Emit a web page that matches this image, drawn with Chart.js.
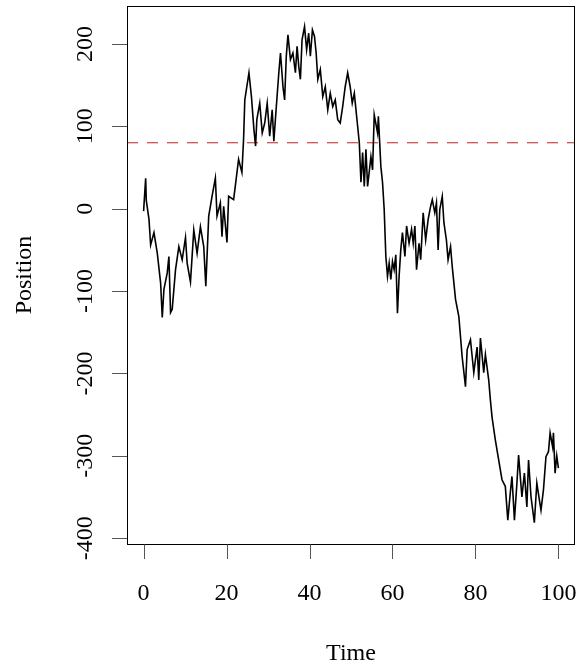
<!DOCTYPE html>
<html lang="en">
<head>
  <meta charset="UTF-8">
  <title>Random walk - Position vs Time</title>
  <script src="https://cdn.jsdelivr.net/npm/chart.js"></script>
  <style>
    html, body { margin: 0; padding: 0; background: #fff; }
    #wrap { width: 577px; height: 666px; position: relative; }
  </style>
</head>
<body>
  <div id="wrap"><canvas id="walkChart"></canvas></div>

  <script>
    // values
    const times = [0, 0.5, 0.65, 1.3, 1.7, 2.5, 3.3, 4.1, 4.5, 4.9, 5.7, 6.1, 6.5, 6.9, 7.7, 8.5, 9.3, 10.1, 10.5, 11.3,
      12.1, 12.9, 13.7, 14.5, 15.0, 15.7, 16.5, 17.3, 17.7, 18.5, 18.9, 19.3, 20.1, 20.5, 21.7, 22.1, 22.9, 23.7, 24.1,
      24.4, 25.4, 26.0, 26.6, 27.0, 27.3, 28.0, 28.6, 29.2, 29.8, 30.4, 31.0, 31.4, 32.0, 32.6, 33.0, 33.6, 34.0, 34.4, 34.8,
      35.4, 36.0, 36.6, 37.0, 37.4, 37.8, 38.2, 38.8, 39.3, 39.8, 40.2, 40.7, 41.2, 41.6, 42.0, 42.6, 43.2, 43.8, 44.4, 45.0,
      45.6, 46.2, 46.8, 47.4, 48.0, 48.6, 49.2, 49.8, 50.3, 50.8,
      51.6, 52.0, 52.4, 52.8, 53.2, 53.6, 54.0, 54.8, 55.2, 55.6, 56.4, 56.6, 57.2, 57.6,
      58.0, 58.4, 58.8, 59.2, 59.6, 60.0, 60.4, 60.8, 61.2, 61.6, 62.0, 62.4, 63.0, 63.4, 64.0, 64.6, 65.0, 65.4, 65.8, 66.4,
      66.8, 67.4, 68.0, 68.6, 69.2, 69.6, 70.2, 70.6, 71.0, 71.4, 72.0, 72.4, 73.0, 73.4, 74.0, 74.4, 75.2, 76.0,
      76.8, 77.6, 78.0, 78.8, 79.6, 80.4, 80.8, 81.2, 82.0, 82.4, 83.2, 83.6, 84.0, 84.8, 85.6, 86.4, 87.2, 87.8, 88.4, 88.8,
      89.4, 90.0, 90.4, 91.2, 91.8, 92.4, 92.8, 93.4, 94.2, 94.8, 95.4, 95.8, 96.4, 97.0, 97.6, 98.0, 98.6, 98.8, 99.2, 99.6,
      100];
    const positions = [-3, 37, 10, -13, -44, -29, -54, -90, -132, -98, -78, -58, -126, -122, -74, -46, -62, -35, -66, -89,
      -26, -54, -22, -46, -94, -9, 15, 37, -9, 7, -34, 3, -41, 15, 11, 27, 60, 44, 84,
      132, 165, 136, 96, 76, 108, 128, 92, 104, 128, 88, 120, 82, 124, 165, 189, 148, 132, 185, 211,
      181, 189, 165, 197, 173, 157, 205, 221, 193, 213, 185, 217, 209, 189, 157, 169, 136, 148, 120, 140,
      124, 132, 108, 104, 124, 148, 165, 148, 128, 140,
      100, 80, 32, 68, 27, 72, 27, 63, 47, 114, 92, 112, 51, 32,
      -1, -58, -82, -66, -86, -64, -74, -56, -127, -82, -50, -29, -58, -21, -42, -25, -42, -21, -74, -42,
      -62, -5, -38, -13, 3, 11, -5, 7, -50, -1, 15, -17, -38, -62, -46, -70, -110, -131,
      -180, -216, -171, -159, -199, -168, -208, -157, -199, -177, -208, -232, -253, -281, -305, -329, -337, -378, -345, -325,
      -378, -333, -299, -350, -321, -362, -305, -350, -381, -333, -353, -366, -341, -301, -295, -272, -289, -272, -321, -300,
      -315];
    const refLevel = 80;

    const xTicks = [0, 20, 40, 60, 80, 100];
    const yTicks = [-400, -300, -200, -100, 0, 100, 200];
    const xRange = [-4, 104];
    const yRange = [-407, 246];

    const FONT = '24px "Liberation Serif", "DejaVu Serif", serif';

    // R style frame, ticks and labels
    const rAxes = {
      id: 'rAxes',
      afterDraw(chart) {
        const { ctx, chartArea: a } = chart;
        const xs = chart.scales.x, ys = chart.scales.y;
        ctx.save();
        ctx.strokeStyle = '#000';
        ctx.lineWidth = 1;
        ctx.strokeRect(a.left + 0.5, a.top + 0.5, a.right - a.left - 1, a.bottom - a.top);

        ctx.strokeStyle = '#555';
        ctx.fillStyle = '#000';
        ctx.font = FONT;
        ctx.textAlign = 'center';
        ctx.textBaseline = 'alphabetic';
        xTicks.forEach(t => {
          const px = Math.round(xs.getPixelForValue(t)) + 0.5;
          ctx.beginPath();
          ctx.moveTo(px, a.bottom + 0.5);
          ctx.lineTo(px, a.bottom + 15);
          ctx.stroke();
          ctx.fillText(String(t), xs.getPixelForValue(t), 600);
        });
        yTicks.forEach(t => {
          const py = Math.round(ys.getPixelForValue(t)) + 0.5;
          ctx.beginPath();
          ctx.moveTo(a.left, py);
          ctx.lineTo(a.left - 15, py);
          ctx.stroke();
          ctx.save();
          ctx.translate(92, ys.getPixelForValue(t));
          ctx.rotate(-Math.PI / 2);
          ctx.fillText(String(t), 0, 0);
          ctx.restore();
        });

        ctx.fillText('Time', (a.left + a.right) / 2, 660);
        ctx.translate(31, (a.top + a.bottom) / 2);
        ctx.rotate(-Math.PI / 2);
        ctx.fillText('Position', 0, 0);
        ctx.restore();
      }
    };

    new Chart(document.getElementById('walkChart'), {
      type: 'line',
      data: {
        datasets: [
          {
            data: times.map((t, i) => ({ x: t, y: positions[i] })),
            borderColor: '#000',
            borderWidth: 1.6,
            pointRadius: 0,
            tension: 0,
            fill: false
          },
          {
            data: [{ x: xRange[0], y: refLevel }, { x: xRange[1], y: refLevel }],
            borderColor: '#c42020',
            borderWidth: 1,
            borderDash: [11, 9],
            pointRadius: 0,
            fill: false
          }
        ]
      },
      options: {
        responsive: true,
        maintainAspectRatio: false,
        animation: false,
        layout: { padding: { left: 127, top: 6, right: 2, bottom: 122 } },
        plugins: { legend: { display: false }, tooltip: { enabled: false } },
        scales: {
          x: { type: 'linear', min: xRange[0], max: xRange[1], display: false },
          y: { type: 'linear', min: yRange[0], max: yRange[1], display: false }
        }
      },
      plugins: [rAxes]
    });
  </script>
</body>
</html>
